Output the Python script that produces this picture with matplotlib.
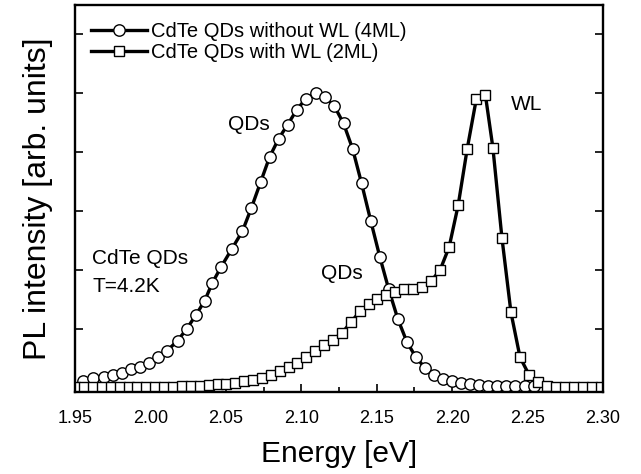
import matplotlib
matplotlib.use("Agg")
import matplotlib.pyplot as plt
from matplotlib.ticker import MultipleLocator

plt.rcParams['font.family'] = ['Liberation Sans', 'DejaVu Sans']

# Series 1: CdTe QDs without WL (4ML) - circles
energy_nowl = [1.9555, 1.962, 1.969, 1.975, 1.981, 1.987, 1.993, 1.999, 2.005, 2.011,
               2.018, 2.024, 2.030, 2.036, 2.041, 2.047, 2.054, 2.061, 2.067, 2.073,
               2.079, 2.085, 2.091, 2.097, 2.103, 2.110, 2.116, 2.122, 2.128, 2.134,
               2.140, 2.146, 2.152, 2.158, 2.164, 2.170, 2.176, 2.182, 2.188, 2.194,
               2.200, 2.206, 2.212, 2.218, 2.224, 2.230, 2.236, 2.242, 2.248, 2.254]
pl_nowl = [0.12, 0.16, 0.19, 0.22, 0.26, 0.32, 0.36, 0.43, 0.52, 0.63,
           0.80, 1.00, 1.23, 1.48, 1.78, 2.06, 2.36, 2.66, 3.06, 3.49,
           3.92, 4.23, 4.47, 4.72, 4.91, 5.01, 4.93, 4.78, 4.49, 4.06,
           3.47, 2.84, 2.23, 1.67, 1.17, 0.78, 0.52, 0.34, 0.22, 0.15,
           0.11, 0.08, 0.06, 0.05, 0.04, 0.035, 0.03, 0.03, 0.03, 0.03]

# Series 2: CdTe QDs with WL (2ML) - squares
energy_wl = [1.950, 1.956, 1.962, 1.968, 1.974, 1.980, 1.986, 1.991, 1.997, 2.003,
             2.009, 2.015, 2.021, 2.027, 2.033, 2.039, 2.045, 2.050, 2.056, 2.062,
             2.068, 2.074, 2.080, 2.086, 2.092, 2.097, 2.103, 2.109, 2.115, 2.121,
             2.127, 2.133, 2.139, 2.145, 2.150, 2.156, 2.162, 2.168, 2.174, 2.180,
             2.186, 2.192, 2.198, 2.204, 2.210, 2.216, 2.222, 2.227, 2.233, 2.239,
             2.245, 2.251, 2.257, 2.263, 2.269, 2.275, 2.281, 2.287, 2.293, 2.299]
pl_wl = [0.02, 0.02, 0.02, 0.02, 0.02, 0.02, 0.02, 0.02, 0.02, 0.02,
         0.02, 0.02, 0.03, 0.03, 0.04, 0.05, 0.06, 0.07, 0.09, 0.11,
         0.14, 0.16, 0.22, 0.28, 0.36, 0.43, 0.52, 0.62, 0.73, 0.82,
         0.93, 1.12, 1.30, 1.42, 1.51, 1.58, 1.63, 1.67, 1.68, 1.71,
         1.81, 2.00, 2.39, 3.10, 4.06, 4.90, 4.98, 4.08, 2.55, 1.28,
         0.52, 0.22, 0.10, 0.04, 0.02, 0.02, 0.02, 0.02, 0.02, 0.02]

label_nowl = "CdTe QDs without WL (4ML)"
label_wl = "CdTe QDs with WL (2ML)"
x_ticks = [1.95, 2.00, 2.05, 2.10, 2.15, 2.20, 2.25, 2.30]

fig = plt.figure(figsize=(6.41, 4.74), dpi=100)
ax = fig.add_axes([0.117, 0.173, 0.8237, 0.8165])

ax.plot(energy_nowl, pl_nowl, '-o', color='black', lw=2.4, ms=8.2,
        mfc='white', mec='black', mew=1.0, label=label_nowl)
ax.plot(energy_wl, pl_wl, '-s', color='black', lw=2.4, ms=7.2,
        mfc='white', mec='black', mew=1.0, label=label_wl)

ax.set_xlim(1.95, 2.30)
ax.set_ylim(-0.07, 6.5)
ax.set_xticks(x_ticks)
ax.set_xticklabels([f"{v:.2f}" for v in x_ticks])
ax.xaxis.set_minor_locator(MultipleLocator(0.025))
ax.set_yticks([1, 2, 3, 4, 5, 6])
ax.set_yticklabels([])

ax.tick_params(axis='x', which='major', direction='in', length=6, width=1.2,
               labelsize=13, pad=13, top=False)
ax.tick_params(axis='x', which='minor', direction='in', length=3.5, width=1.2, top=False)
ax.tick_params(axis='y', which='major', direction='in', length=6, width=1.2,
               left=True, right=True)
for s in ax.spines.values():
    s.set_linewidth(1.7)

ax.set_xlabel("Energy [eV]", fontsize=21.5, labelpad=9)
ax.set_ylabel("PL intensity [arb. units]", fontsize=23, labelpad=12)

ax.text(2.079, 4.47, "QDs", fontsize=15, va='center', ha='right')
ax.text(2.141, 1.95, "QDs", fontsize=15, va='center', ha='right')
ax.text(2.239, 4.81, "WL", fontsize=15, va='center', ha='left')
ax.text(1.9613, 2.19, "CdTe QDs", fontsize=15, va='center', ha='left')
ax.text(1.9613, 1.72, "T=4.2K", fontsize=15, va='center', ha='left')

ax.legend(loc='upper left', bbox_to_anchor=(0.03, 0.957), frameon=False,
          fontsize=14.5, handlelength=2.8, handletextpad=0.2, labelspacing=0.12,
          borderpad=0, borderaxespad=0)

fig.savefig("out.png", dpi=100)
